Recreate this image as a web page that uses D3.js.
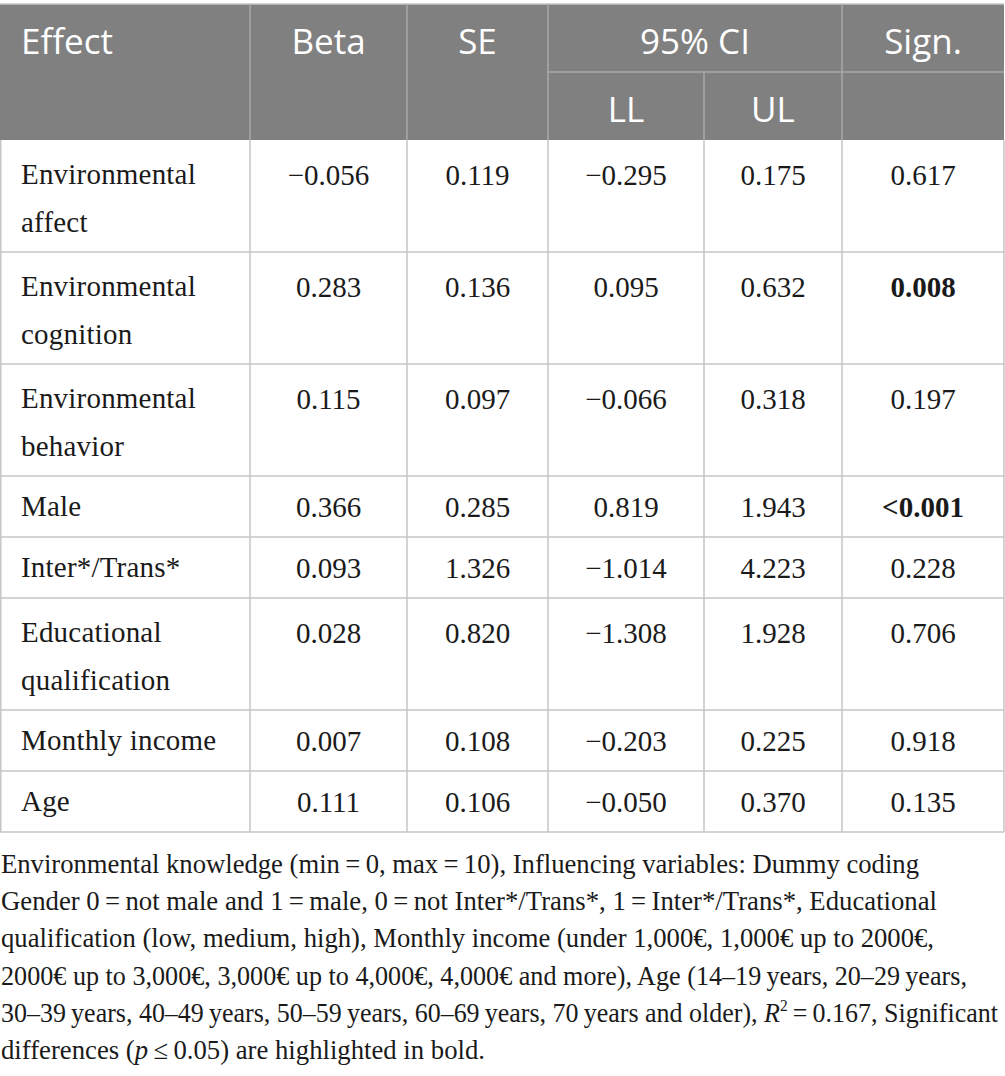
<!DOCTYPE html>
<html>
<head>
<meta charset="utf-8">
<script src="https://cdn.jsdelivr.net/npm/d3@7"></script>
<style>
  html, body { margin: 0; padding: 0; background: #fff; }
</style>
</head>
<body>
<div id="regression-table"></div>
<script>
const tableWidth = 1005;
const tableHeight = 1076;

// table content
const effectLabels = [
  ["Environmental", "affect"],
  ["Environmental", "cognition"],
  ["Environmental", "behavior"],
  ["Male"],
  ["Inter*/Trans*"],
  ["Educational", "qualification"],
  ["Monthly income"],
  ["Age"],
];
const betaValues = [-0.056, 0.283, 0.115, 0.366, 0.093, 0.028, 0.007, 0.111];
const seValues = [0.119, 0.136, 0.097, 0.285, 1.326, 0.82, 0.108, 0.106];
const lowerValues = [-0.295, 0.095, -0.066, 0.819, -1.014, -1.308, -0.203, -0.05];
const upperValues = [0.175, 0.632, 0.318, 1.943, 4.223, 1.928, 0.225, 0.37];
const signValues = ["0.617", "0.008", "0.197", "<0.001", "0.228", "0.706", "0.918", "0.135"];
const significanceLevel = 0.05;

const headerTop = ["Effect", "Beta", "SE", "95% CI", "Sign."];
const headerSub = ["LL", "UL"];

const footnoteLines = [
  "Environmental knowledge (min\u2009=\u20090, max\u2009=\u200910), Influencing variables: Dummy coding",
  "Gender 0\u2009=\u2009not male and 1\u2009=\u2009male, 0\u2009=\u2009not Inter*/Trans*, 1\u2009=\u2009Inter*/Trans*, Educational",
  "qualification (low, medium, high), Monthly income (under 1,000€, 1,000€ up to 2000€,",
  "2000€ up to 3,000€, 3,000€ up to 4,000€, 4,000€ and more), Age (14\u201319\u2009years, 20\u201329\u2009years,",
  null, // line with R² built below
  null, // line with italic p
];
// right end of each footnote line in the reference
const footnoteWidths = [919, 937, 934, 967, 998, 485];

const fmt = d3.format(".3f");

const rows = effectLabels.map((label, i) => ({
  label,
  cells: [
    fmt(betaValues[i]),
    fmt(seValues[i]),
    fmt(lowerValues[i]),
    fmt(upperValues[i]),
    signValues[i],
  ],
  significant:
    signValues[i].startsWith("<") || +signValues[i] <= significanceLevel,
}));

// layout
const colEdges = [0, 250, 407, 548, 704, 842, 1004];
const headerY0 = 4;
const headerMid = 72;
const headerY1 = 140;
const lineH = 48;
const singleRowH = 61;
const doubleRowH = 112;
const gridColor = "#c6c6c6";
const headerFill = "#808080";
const headerLine = "#a8a8a8";
const serif = "'Liberation Serif', 'Times New Roman', serif";
const sans = "'Open Sans', 'Noto Sans', sans-serif";

let yCursor = headerY1;
rows.forEach((r) => {
  r.y0 = yCursor;
  r.double = r.label.length > 1;
  r.h = r.double ? doubleRowH : singleRowH;
  r.base = r.double ? 44 : 40;
  yCursor += r.h;
  r.y1 = yCursor;
});
const tableBottom = yCursor;

const x = d3.scaleOrdinal().domain(d3.range(colEdges.length)).range(colEdges);
const colCenter = (i) => (x(i) + x(i + 1)) / 2;

const svg = d3
  .select("#regression-table")
  .append("svg")
  .attr("width", tableWidth)
  .attr("height", tableHeight)
  .attr("viewBox", `0 0 ${tableWidth} ${tableHeight}`);

// header background
svg
  .append("rect")
  .attr("x", x(0))
  .attr("y", headerY0)
  .attr("width", x(6) - x(0))
  .attr("height", headerY1 - headerY0)
  .attr("fill", headerFill);

const headerLines = svg.append("g").attr("stroke", headerLine).attr("stroke-width", 1.5);
headerLines
  .append("line")
  .attr("x1", x(0)).attr("x2", x(6))
  .attr("y1", headerY0).attr("y2", headerY0)
  .attr("stroke", gridColor);
[1, 2, 3, 5].forEach((c) => {
  headerLines
    .append("line")
    .attr("x1", x(c)).attr("x2", x(c))
    .attr("y1", headerY0).attr("y2", headerY1);
});
headerLines
  .append("line")
  .attr("x1", x(4)).attr("x2", x(4))
  .attr("y1", headerMid).attr("y2", headerY1);
headerLines
  .append("line")
  .attr("x1", x(3)).attr("x2", x(6))
  .attr("y1", headerMid).attr("y2", headerMid);

const headerText = svg
  .append("g")
  .attr("fill", "#fff")
  .attr("font-family", sans)
  .attr("font-size", 35);

const headerPos = [
  { x: x(0) + 21, anchor: "start" },
  { x: colCenter(1), anchor: "middle" },
  { x: colCenter(2), anchor: "middle" },
  { x: (x(3) + x(5)) / 2, anchor: "middle" },
  { x: colCenter(5), anchor: "middle" },
];
headerText
  .selectAll(".head-top")
  .data(headerTop)
  .join("text")
  .attr("class", "head-top")
  .attr("x", (d, i) => headerPos[i].x)
  .attr("y", 54)
  .attr("text-anchor", (d, i) => headerPos[i].anchor)
  .text((d) => d);
headerText
  .selectAll(".head-sub")
  .data(headerSub)
  .join("text")
  .attr("class", "head-sub")
  .attr("x", (d, i) => colCenter(3 + i))
  .attr("y", 122)
  .attr("text-anchor", "middle")
  .text((d) => d);

// body grid
const grid = svg.append("g").attr("stroke", gridColor).attr("stroke-width", 1.5);
grid
  .selectAll(".row-line")
  .data(rows)
  .join("line")
  .attr("class", "row-line")
  .attr("x1", x(0)).attr("x2", x(6))
  .attr("y1", (d) => d.y1).attr("y2", (d) => d.y1);
grid
  .selectAll(".col-line")
  .data(colEdges)
  .join("line")
  .attr("class", "col-line")
  .attr("x1", (d, i) => x(i) + (i === 0 ? 0.75 : 0))
  .attr("x2", (d, i) => x(i) + (i === 0 ? 0.75 : 0))
  .attr("y1", headerY1)
  .attr("y2", tableBottom);

// body text
const body = svg
  .append("g")
  .attr("font-family", serif)
  .attr("font-size", 29)
  .attr("fill", "#1a1a1a");

const rowG = body
  .selectAll(".row")
  .data(rows)
  .join("g")
  .attr("class", "row")
  .attr("transform", (d) => `translate(0, ${d.y0})`);

rowG
  .selectAll(".label")
  .data((d) => d.label.map((t) => ({ t, base: d.base })))
  .join("text")
  .attr("class", "label")
  .attr("x", x(0) + 21)
  .attr("y", (d, i) => d.base + i * lineH)
  .attr("letter-spacing", 0.2)
  .text((d) => d.t);

rowG
  .selectAll(".cell")
  .data((d) =>
    d.cells.map((v, i) => ({ v, i, base: d.base, bold: i === 4 && d.significant })),
  )
  .join("text")
  .attr("class", "cell")
  .attr("x", (d) => colCenter(d.i + 1))
  .attr("y", (d) => d.base + 1)
  .attr("text-anchor", "middle")
  .attr("font-weight", (d) => (d.bold ? "bold" : "normal"))
  .text((d) => d.v);

// footnote
const foot = svg
  .append("g")
  .attr("font-family", serif)
  .attr("font-size", 27)
  .attr("fill", "#1a1a1a");
const footStart = 873;
const footStep = 37.2;

footnoteLines.forEach((line, i) => {
  const t = foot
    .append("text")
    .attr("x", 1)
    .attr("y", footStart + i * footStep)
    .attr("textLength", footnoteWidths[i] - 1)
    .attr("lengthAdjust", "spacingAndGlyphs");
  if (line) {
    t.text(line);
  } else if (i === 4) {
    t.append("tspan").text("30\u201339\u2009years, 40\u201349\u2009years, 50\u201359\u2009years, 60\u201369\u2009years, 70\u2009years and older), ");
    t.append("tspan").attr("font-style", "italic").text("R");
    t.append("tspan").attr("font-size", 16).attr("dy", -11).text("2");
    t.append("tspan").attr("dy", 11).text("\u2009=\u20090.167, Significant");
  } else {
    t.append("tspan").text("differences (");
    t.append("tspan").attr("font-style", "italic").text("p");
    t.append("tspan").text("\u2009\u2264\u20090.05) are highlighted in bold.");
  }
});
</script>
</body>
</html>
